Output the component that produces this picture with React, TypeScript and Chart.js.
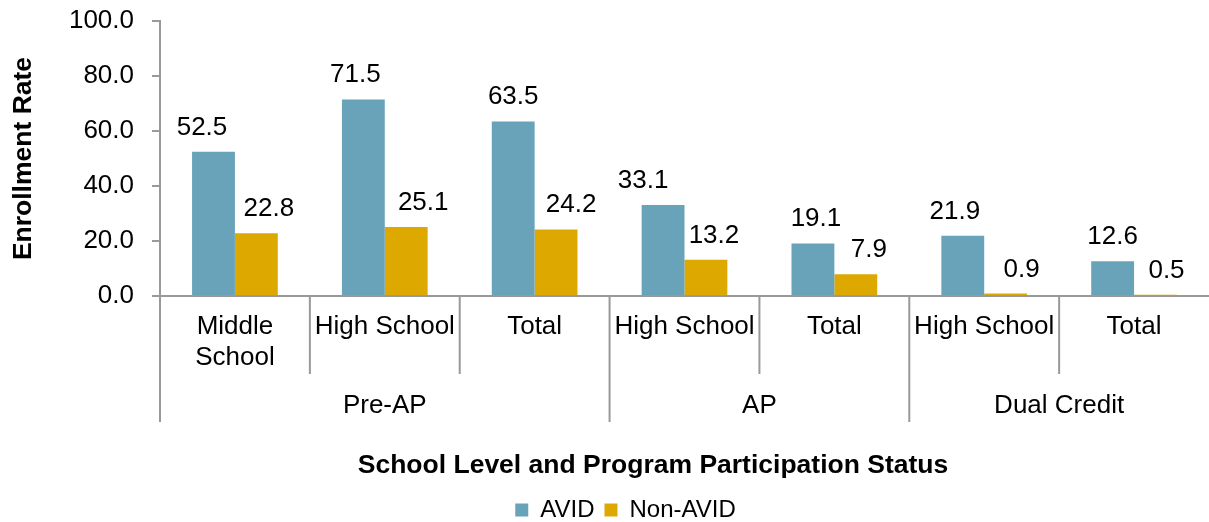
import React, { useEffect, useRef } from 'react';
import { Chart, registerables } from 'chart.js';

Chart.register(...registerables);

// ---- data ----
const categories: (string | string[])[] = [
  ['Middle', 'School'],
  'High School',
  'Total',
  'High School',
  'Total',
  'High School',
  'Total',
];
const groups = ['Pre-AP', 'AP', 'Dual Credit'];
const groupSizes = [3, 2, 2];
const seriesNames = ['AVID', 'Non-AVID'];
const avidValues = [52.5, 71.5, 63.5, 33.1, 19.1, 21.9, 12.6];
const nonAvidValues = [22.8, 25.1, 24.2, 13.2, 7.9, 0.9, 0.5];
const yMin = 0;
const yMax = 100;
const yStep = 20;
const yTitle = 'Enrollment Rate';
const xTitle = 'School Level and Program Participation Status';

// ---- style ----
const FONT = '"Liberation Sans", Arial, Helvetica, sans-serif';
const AVID_COLOR = '#69A3BA';
const NON_AVID_COLOR = '#DDA900';
const AXIS_COLOR = '#999999';
const avidLabelShift = [-11.5, -8, 0, -20, 3, -8, 0];
const nonAvidLabelShift = [12.5, 17, 15, 8, 13, 16, 11];
const LABEL_GAP = 17;
const X_TITLE_X = 653;
const X_TITLE_Y = 466;

const decorPlugin = {
  id: 'decor',
  afterDatasetsDraw(chart: any) {
    const { ctx } = chart;
    const shifts = [avidLabelShift, nonAvidLabelShift];
    ctx.save();
    ctx.font = `26px ${FONT}`;
    ctx.fillStyle = '#000';
    ctx.textAlign = 'center';
    ctx.textBaseline = 'alphabetic';
    chart.data.datasets.forEach((ds: any, di: number) => {
      const meta = chart.getDatasetMeta(di);
      meta.data.forEach((bar: any, i: number) => {
        const v = ds.data[i] as number;
        ctx.fillText(v.toFixed(1), bar.x + shifts[di][i], bar.y - LABEL_GAP);
      });
    });
    ctx.restore();
  },
  afterDraw(chart: any) {
    const { ctx, chartArea } = chart;
    const x = chart.scales.x;
    const base = chartArea.bottom;
    const half = (x.getPixelForTick(1) - x.getPixelForTick(0)) / 2;
    ctx.save();
    ctx.strokeStyle = AXIS_COLOR;
    ctx.lineWidth = 2;
    const line = (x1: number, y1: number, x2: number, y2: number) => {
      ctx.beginPath();
      ctx.moveTo(x1, y1);
      ctx.lineTo(x2, y2);
      ctx.stroke();
    };
    // left axis extension
    line(chartArea.left, base, chartArea.left, base + 126);
    // separators
    const groupStarts: number[] = [];
    let acc = 0;
    groupSizes.forEach((s) => {
      groupStarts.push(acc);
      acc += s;
    });
    for (let i = 1; i < categories.length; i++) {
      const bx = x.getPixelForTick(i) - half;
      const isGroup = groupStarts.includes(i);
      line(bx, base, bx, base + (isGroup ? 126 : 78));
    }
    // group labels
    ctx.fillStyle = '#000';
    ctx.textAlign = 'center';
    ctx.textBaseline = 'middle';
    ctx.font = `26px ${FONT}`;
    groups.forEach((g, gi) => {
      const s = groupStarts[gi];
      const e = s + groupSizes[gi] - 1;
      const l = x.getPixelForTick(s) - half;
      const r = x.getPixelForTick(e) + half;
      ctx.fillText(g, (l + r) / 2, base + 110);
    });
    // x title
    ctx.font = `bold 26.5px ${FONT}`;
    ctx.fillText(xTitle, X_TITLE_X, X_TITLE_Y);
    ctx.restore();
  },
};

export default function App() {
  const ref = useRef<HTMLCanvasElement | null>(null);
  useEffect(() => {
    document.body.style.margin = '0';
    const canvas = ref.current;
    if (!canvas) return;
    Chart.defaults.font.family = FONT;
    const chart = new Chart(canvas, {
      type: 'bar',
      data: {
        labels: categories as any,
        datasets: [
          {
            label: seriesNames[0],
            data: avidValues,
            backgroundColor: AVID_COLOR,
            borderWidth: 0,
            categoryPercentage: 0.572,
            barPercentage: 1,
          },
          {
            label: seriesNames[1],
            data: nonAvidValues,
            backgroundColor: NON_AVID_COLOR,
            borderWidth: 0,
            categoryPercentage: 0.572,
            barPercentage: 1,
          },
        ],
      },
      options: {
        responsive: false,
        animation: false,
        devicePixelRatio: 1,
        layout: { padding: { left: 38, right: -4, top: 21, bottom: 0 } },
        plugins: {
          tooltip: { enabled: false },
          legend: {
            position: 'bottom',
            maxHeight: 34,
            labels: {
              boxWidth: 13,
              boxHeight: 13,
              padding: 10,
              color: '#000',
              font: { size: 24, family: FONT },
            },
          },
        },
        scales: {
          x: {
            type: 'category',
            grid: { display: false, drawTicks: false },
            border: { display: true, color: AXIS_COLOR, width: 2 },
            ticks: {
              color: '#000',
              font: { size: 26, family: FONT, lineHeight: 1.2 },
              padding: 15.4,
              maxRotation: 0,
              minRotation: 0,
              autoSkip: false,
            },
            afterFit(scale: any) {
              scale.height = 192;
            },
          },
          y: {
            min: yMin,
            max: yMax,
            grid: {
              drawOnChartArea: false,
              drawTicks: true,
              tickLength: 8,
              color: AXIS_COLOR,
              lineWidth: 2,
            },
            border: { display: true, color: AXIS_COLOR, width: 2 },
            ticks: {
              stepSize: yStep,
              color: '#000',
              padding: 18,
              font: { size: 26, family: FONT },
              callback: (v: any) => Number(v).toFixed(1),
            },
            title: {
              display: true,
              text: yTitle,
              color: '#000',
              font: { size: 26.5, weight: 'bold', family: FONT },
              padding: { top: -29.8, bottom: 0 },
            },
            afterFit(scale: any) {
              scale.width = 122;
              scale.paddingTop = 0;
              scale.paddingBottom = 0;
            },
          },
        },
      },
      plugins: [decorPlugin],
    });
    return () => chart.destroy();
  }, []);
  return (
    <div style={{ width: 1209, height: 522, overflow: 'hidden' }}>
      <canvas ref={ref} width={1209} height={522} style={{ display: 'block' }} />
    </div>
  );
}
